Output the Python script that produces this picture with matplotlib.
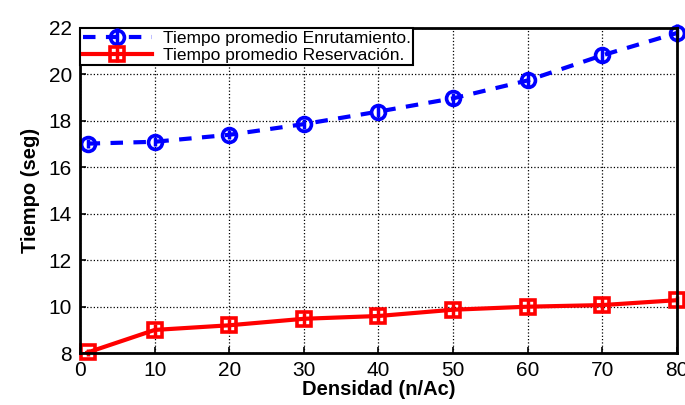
import numpy as np
import matplotlib
matplotlib.use('Agg')
import matplotlib.pyplot as plt

# ── data ────────────────────────────────────────────────────────────────────
densidad = [1, 10, 20, 30, 40, 50, 60, 70, 80]
t_enrut = [17.02, 17.1, 17.4, 17.86, 18.4, 18.97, 19.74, 20.82, 21.78]
err_enrut = [0.2, 0.2, 0.2, 0.2, 0.25, 0.25, 0.3, 0.35, 0.4]
t_reserv = [8.03, 9.0, 9.2, 9.48, 9.6, 9.87, 10.0, 10.07, 10.28]
err_reserv = [0.15, 0.25, 0.25, 0.25, 0.3, 0.3, 0.3, 0.3, 0.2]

plt.rcParams['font.family'] = ['Liberation Sans', 'DejaVu Sans']

fig = plt.figure(figsize=(6.85, 4.05), dpi=100)
ax = fig.add_axes([0.117, 0.128, 0.871, 0.803])

ax.errorbar(densidad, t_enrut, yerr=err_enrut, color='blue', linestyle='--',
            linewidth=3, marker='o', markersize=10, markerfacecolor='none',
            markeredgewidth=2.6, elinewidth=2.5, capsize=0, clip_on=False,
            dashes=(3, 2.5), label='Tiempo promedio Enrutamiento.')
ax.errorbar(densidad, t_reserv, yerr=err_reserv, color='red', linestyle='-',
            linewidth=3, marker='s', markersize=10, markerfacecolor='none',
            markeredgewidth=2.6, elinewidth=2.5, capsize=0, clip_on=False,
            label='Tiempo promedio Reservación.')

ax.set_xlim(0, 80)
ax.set_ylim(8, 22)
ax.set_xticks(range(0, 81, 10))
ax.set_yticks(range(8, 23, 2))
ax.grid(True, color='black', linestyle=':', linewidth=0.9)
ax.tick_params(labelsize=15, direction='in', length=4, width=1.2, pad=6)
for s in ax.spines.values():
    s.set_linewidth(2)

ax.set_xlabel('Densidad (n/Ac)', fontsize=14.5, fontweight='bold', labelpad=0)
ax.set_ylabel('Tiempo (seg)', fontsize=14.5, fontweight='bold', labelpad=6)

leg = ax.legend(loc='upper left', fontsize=12.5, borderaxespad=0, fancybox=False,
                framealpha=1, edgecolor='black', handlelength=4,
                borderpad=0.15, labelspacing=0.1, handletextpad=0.6)
leg.get_frame().set_linewidth(1.5)

plt.savefig('out.png', dpi=100)
